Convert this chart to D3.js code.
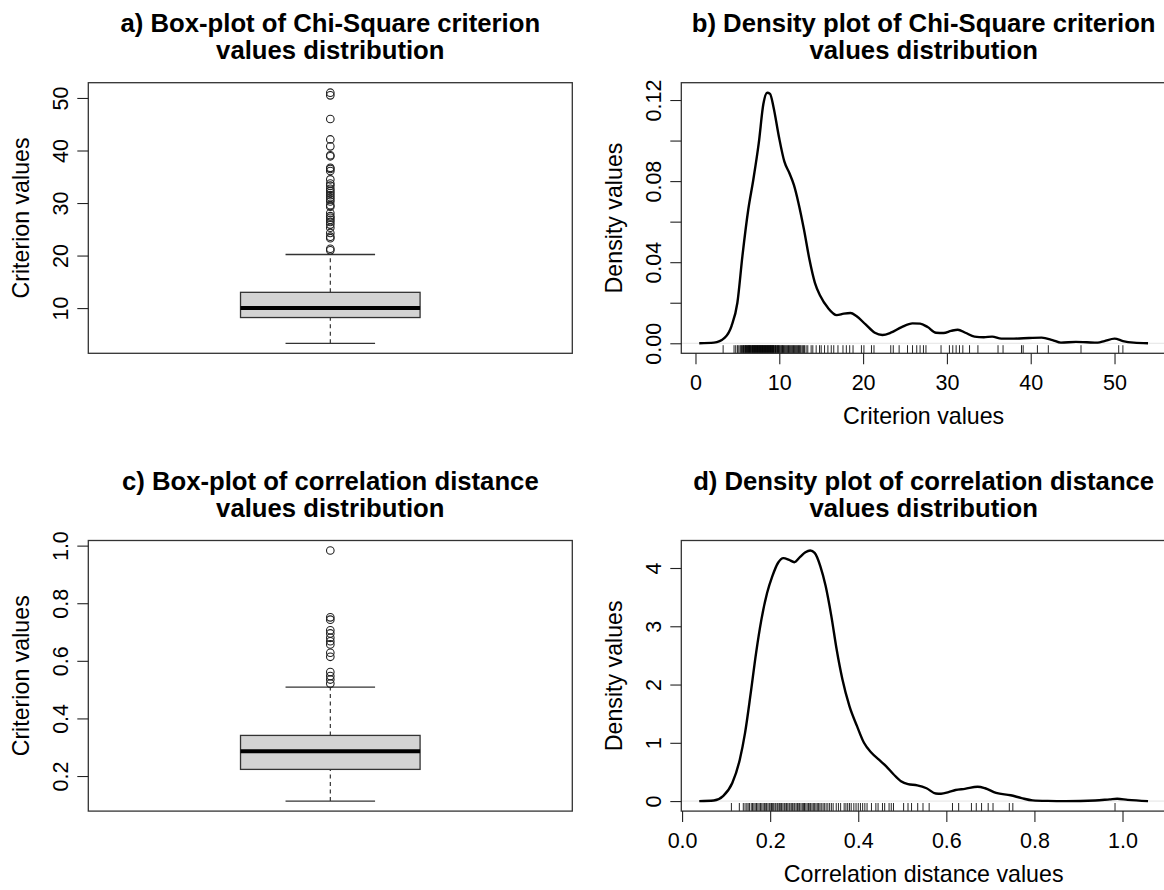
<!DOCTYPE html>
<html>
<head>
<meta charset="utf-8">
<script src="https://cdn.jsdelivr.net/npm/d3@7"></script>
<style>
  body { margin: 0; background: #fff; }
  text { font-family: "Liberation Sans", Arial, Helvetica, sans-serif; fill: #000; }
</style>
</head>
<body>
<div id="chart"></div>
<script>
// ---- Data ----

// a) Chi-Square criterion box-plot: [lower whisker, Q1, median, Q3, upper whisker]
var chiBox = [3.3, 8.2, 10.0, 13.0, 20.2];
var chiOutliers = [21.0, 21.3, 23.3, 23.6, 24.3, 25.3, 25.9, 26.4, 26.8, 27.2, 27.5, 28.1,
  29.3, 29.6, 30.3, 30.7, 31.1, 31.5, 31.9, 32.3, 32.7, 33.3, 33.7, 34.5, 36.1, 36.5,
  36.7, 38.9, 39.1, 40.8, 42.1, 46.0, 50.5, 51.0];

// b) Chi-Square density curve (x, density) and rug values
var chiDensX = [0.45, 2.2, 3.5, 4.3, 5.0, 5.6, 6.3, 6.9, 7.55, 8.1, 8.55, 8.9, 9.3, 9.95,
  10.6, 11.2, 11.75, 12.3, 12.95, 13.6, 14.25, 14.9, 15.8, 16.85, 17.7, 18.5, 19.2, 20.3,
  21.4, 22.3, 23.3, 24.6, 25.9, 26.8, 27.7, 28.7, 29.6, 30.5, 31.3, 32.2, 33.3, 34.4, 35.4,
  36.5, 38.0, 39.8, 41.3, 42.6, 43.6, 45.4, 46.7, 48.0, 48.8, 50.0, 51.0, 52.3, 54.0];
var chiDensY = [0, 0.0003, 0.0028, 0.0085, 0.020, 0.043, 0.066, 0.0807, 0.0987, 0.118,
  0.1236, 0.123, 0.1167, 0.102, 0.0897, 0.084, 0.078, 0.069, 0.056, 0.0413, 0.0298, 0.0233,
  0.0175, 0.0139, 0.0146, 0.0149, 0.0134, 0.0093, 0.0052, 0.0041, 0.0052, 0.0080, 0.0098,
  0.0097, 0.0080, 0.0052, 0.0051, 0.0061, 0.0067, 0.0052, 0.0033, 0.0030, 0.0033, 0.0023,
  0.0023, 0.0026, 0.0028, 0.0016, 0.0003, 0.0007, 0.0005, 0.0003, 0.0011, 0.0023, 0.0011,
  0.0003, 0];
var chiRug = [3.3, 4.6, 4.8, 5.0, 5.1, 5.3, 5.4, 5.5, 5.6, 5.7, 5.75, 5.8, 5.9, 5.95, 6.0,
  6.05, 6.1, 6.2, 6.25, 6.3, 6.35, 6.4, 6.45, 6.5, 6.55, 6.6, 6.7, 6.75, 6.8, 6.85, 6.9,
  6.95, 7.0, 7.05, 7.1, 7.15, 7.2, 7.25, 7.3, 7.35, 7.4, 7.45, 7.5, 7.55, 7.6, 7.65, 7.7,
  7.75, 7.8, 7.85, 7.9, 7.95, 8.0, 8.05, 8.1, 8.15, 8.2, 8.25, 8.3, 8.35, 8.4, 8.45, 8.5,
  8.55, 8.6, 8.65, 8.7, 8.75, 8.8, 8.85, 8.9, 8.95, 9.0, 9.05, 9.1, 9.15, 9.2, 9.25, 9.3,
  9.35, 9.4, 9.5, 9.55, 9.6, 9.7, 9.75, 9.8, 9.9, 9.95, 10.0, 10.1, 10.2, 10.3, 10.35,
  10.4, 10.5, 10.6, 10.7, 10.8, 10.9, 11.0, 11.1, 11.2, 11.3, 11.4, 11.5, 11.6, 11.7, 11.8,
  11.9, 12.0, 12.1, 12.2, 12.3, 12.4, 12.5, 12.6, 12.75, 12.9, 13.0, 13.2, 13.4, 13.8,
  14.0, 14.4, 14.8, 15.0, 15.4, 15.8, 16.2, 16.5, 17.0, 17.6, 18.0, 18.4, 18.8, 19.8, 20.1,
  21.0, 21.3, 23.3, 23.6, 24.3, 25.3, 25.9, 26.4, 26.8, 27.2, 27.5, 29.3, 30.3, 30.7, 31.1,
  31.5, 31.9, 32.7, 33.7, 36.1, 36.7, 38.9, 39.1, 40.8, 42.1, 46.0, 50.5, 51.0];

// c) correlation distance box-plot
var corrBox = [0.113, 0.223, 0.286, 0.341, 0.509];
var corrOutliers = [0.521, 0.535, 0.547, 0.561, 0.614, 0.628, 0.657, 0.668, 0.68, 0.695,
  0.706, 0.743, 0.751, 0.983];

// d) correlation distance density curve and rug values
var corrDensX = [0.039, 0.072, 0.093, 0.114, 0.131, 0.143, 0.156, 0.168, 0.18, 0.193, 0.205,
  0.218, 0.23, 0.243, 0.255, 0.268, 0.28, 0.291, 0.301, 0.314, 0.326, 0.339, 0.351, 0.364,
  0.38, 0.397, 0.413, 0.43, 0.447, 0.463, 0.48, 0.497, 0.513, 0.534, 0.555, 0.576, 0.588,
  0.605, 0.621, 0.642, 0.671, 0.688, 0.713, 0.746, 0.771, 0.796, 0.83, 0.871, 0.938,
  0.971, 0.988, 1.012, 1.058];
var corrDensY = [0, 0.01, 0.086, 0.31, 0.71, 1.17, 1.86, 2.54, 3.11, 3.57, 3.86, 4.09,
  4.17, 4.14, 4.10, 4.19, 4.27, 4.30, 4.26, 4.03, 3.69, 3.17, 2.6, 2.09, 1.63, 1.29, 1.0,
  0.83, 0.71, 0.6, 0.46, 0.34, 0.29, 0.27, 0.22, 0.13, 0.126, 0.154, 0.19, 0.21, 0.246,
  0.22, 0.14, 0.1, 0.05, 0.012, 0.003, 0, 0.01, 0.03, 0.04, 0.02, 0];
var corrRug = [0.112, 0.130, 0.139, 0.143, 0.147, 0.150, 0.153, 0.157, 0.160, 0.163, 0.166,
  0.169, 0.172, 0.175, 0.178, 0.181, 0.184, 0.187, 0.190, 0.192, 0.195, 0.198, 0.200,
  0.203, 0.205, 0.208, 0.211, 0.213, 0.216, 0.218, 0.221, 0.224, 0.226, 0.229, 0.232,
  0.234, 0.237, 0.240, 0.243, 0.245, 0.248, 0.251, 0.254, 0.256, 0.259, 0.262, 0.265,
  0.267, 0.270, 0.273, 0.276, 0.278, 0.281, 0.284, 0.287, 0.290, 0.292, 0.295, 0.298,
  0.301, 0.304, 0.307, 0.310, 0.313, 0.316, 0.320, 0.323, 0.327, 0.331, 0.335, 0.339,
  0.343, 0.350, 0.355, 0.360, 0.368, 0.372, 0.376, 0.380, 0.384, 0.390, 0.395, 0.400,
  0.405, 0.410, 0.415, 0.420, 0.430, 0.440, 0.445, 0.455, 0.460, 0.470, 0.475, 0.480,
  0.503, 0.513, 0.521, 0.535, 0.547, 0.561, 0.614, 0.628, 0.657, 0.668, 0.68, 0.695,
  0.706, 0.743, 0.751, 0.983];

// ticks
var chiYTicks = [10, 20, 30, 40, 50];
var chiDensYTicks = [0, 0.02, 0.04, 0.06, 0.08, 0.10, 0.12];
var chiDensYLabels = ["0.00", "", "0.04", "", "0.08", "", "0.12"];
var chiDensXTicks = [0, 10, 20, 30, 40, 50];
var corrYTicks = [0.2, 0.4, 0.6, 0.8, 1.0];
var corrYLabels = ["0.2", "0.4", "0.6", "0.8", "1.0"];
var corrDensYTicks = [0, 1, 2, 3, 4];
var corrDensXTicks = [0, 0.2, 0.4, 0.6, 0.8, 1.0];
var corrDensXLabels = ["0.0", "0.2", "0.4", "0.6", "0.8", "1.0"];

// ---- Layout ----
var svg = d3.select("#chart").append("svg")
  .attr("width", 1164)
  .attr("height", 890);

var colL = [88.3, 572.3];
var colR = [681.3, 1166];
var rowT = [82.7, 353.3];
var rowB = [540.5, 811.1];

var tickFont = 21.5;
var labFont = 23.2;
var titleFont = 25.7;
var lineCol = "#222";

// R-style 4% range expansion
function pad(ext) {
  var d = (ext[1] - ext[0]) * 0.04;
  return [ext[0] - d, ext[1] + d];
}

function drawTitle(xr, yr, lines) {
  var cx = (xr[0] + xr[1]) / 2;
  var t = svg.append("text")
    .attr("text-anchor", "middle")
    .attr("font-size", titleFont)
    .attr("font-weight", "bold");
  t.append("tspan").attr("x", cx).attr("y", yr[0] - 50.4).text(lines[0]);
  t.append("tspan").attr("x", cx).attr("y", yr[0] - 23.4).text(lines[1]);
}

function frame(xr, yr) {
  svg.append("rect")
    .attr("x", xr[0]).attr("y", yr[0])
    .attr("width", xr[1] - xr[0]).attr("height", yr[1] - yr[0])
    .attr("fill", "none")
    .attr("stroke", "#333")
    .attr("stroke-width", 1.3);
}

function yAxis(xr, y, ticks, labels) {
  var g = svg.append("g")
    .attr("transform", `translate(${xr[0]},0)`)
    .call(d3.axisLeft(y).tickValues(ticks).tickSize(11).tickSizeOuter(0)
      .tickFormat((d, i) => labels[i]));
  g.select(".domain").remove();
  g.selectAll("line").attr("stroke", lineCol).attr("stroke-width", 1.1);
  g.selectAll("text")
    .attr("x", null).attr("dy", null)
    .attr("transform", "translate(-20.5,0) rotate(-90)")
    .attr("text-anchor", "middle")
    .attr("font-size", tickFont)
    .attr("font-family", "Liberation Sans, Arial, sans-serif");
  return g;
}

function yTitle(xr, yr, label) {
  var cy = (yr[0] + yr[1]) / 2;
  svg.append("text")
    .attr("transform", `translate(${xr[0] - 59},${cy}) rotate(-90)`)
    .attr("text-anchor", "middle")
    .attr("font-size", labFont)
    .text(label);
}

function boxPanel(xr, yr, stats, outliers, ticks, labels, title) {
  var y = d3.scaleLinear()
    .domain(pad([stats[0], d3.max(outliers)]))
    .range([yr[1], yr[0]]);
  var x = d3.scaleLinear().domain([0.5, 1.5]).range(xr);
  var half = 0.1855, cap = 0.0925;

  var g = svg.append("g");
  // dashed whiskers
  g.append("line")
    .attr("x1", x(1)).attr("x2", x(1))
    .attr("y1", y(stats[3])).attr("y2", y(stats[4]))
    .attr("stroke", lineCol).attr("stroke-dasharray", "4,3.5").attr("stroke-width", 1.1);
  g.append("line")
    .attr("x1", x(1)).attr("x2", x(1))
    .attr("y1", y(stats[0])).attr("y2", y(stats[1]))
    .attr("stroke", lineCol).attr("stroke-dasharray", "4,3.5").attr("stroke-width", 1.1);
  // staples
  [stats[0], stats[4]].forEach(function(v) {
    g.append("line")
      .attr("x1", x(1 - cap)).attr("x2", x(1 + cap))
      .attr("y1", y(v)).attr("y2", y(v))
      .attr("stroke", "#333").attr("stroke-width", 1.3);
  });
  // box
  g.append("rect")
    .attr("x", x(1 - half)).attr("width", x(1 + half) - x(1 - half))
    .attr("y", y(stats[3])).attr("height", y(stats[1]) - y(stats[3]))
    .attr("fill", "#d3d3d3")
    .attr("stroke", "#333").attr("stroke-width", 1.3);
  // median
  g.append("line")
    .attr("x1", x(1 - half)).attr("x2", x(1 + half))
    .attr("y1", y(stats[2])).attr("y2", y(stats[2]))
    .attr("stroke", "#000").attr("stroke-width", 4);
  // outliers
  g.selectAll("circle.out")
    .data(outliers)
    .enter().append("circle")
    .attr("class", "out")
    .attr("cx", x(1))
    .attr("cy", d => y(d))
    .attr("r", 3.8)
    .attr("fill", "none")
    .attr("stroke", "#222")
    .attr("stroke-width", 1.1);

  frame(xr, yr);
  yAxis(xr, y, ticks, labels);
  yTitle(xr, yr, "Criterion values");
  drawTitle(xr, yr, title);
}

function densityPanel(xr, yr, xs, ys, rug, xTicks, xLabels, yTicks, yLabels, xlab, title) {
  var x = d3.scaleLinear().domain(pad(d3.extent(xs))).range(xr);
  var y = d3.scaleLinear().domain(pad([0, d3.max(ys)])).range([yr[1], yr[0]]);
  var pts = xs.map((v, i) => [v, ys[i]]);

  // zero line
  svg.append("line")
    .attr("x1", xr[0]).attr("x2", xr[1])
    .attr("y1", y(0)).attr("y2", y(0))
    .attr("stroke", "#d0d0d0").attr("stroke-width", 0.6);

  // rug
  svg.append("g").selectAll("line")
    .data(rug)
    .enter().append("line")
    .attr("x1", d => x(d)).attr("x2", d => x(d))
    .attr("y1", yr[1]).attr("y2", yr[1] - 8.1)
    .attr("stroke", "#000")
    .attr("stroke-opacity", 0.85)
    .attr("stroke-width", 1);

  // density curve
  svg.append("path")
    .datum(pts)
    .attr("fill", "none")
    .attr("stroke", "#000")
    .attr("stroke-width", 2.4)
    .attr("stroke-linejoin", "round")
    .attr("d", d3.line().x(d => x(d[0])).y(d => y(d[1])).curve(d3.curveMonotoneX));

  frame(xr, yr);

  var gx = svg.append("g")
    .attr("transform", `translate(0,${yr[1]})`)
    .call(d3.axisBottom(x).tickValues(xTicks).tickSize(11).tickSizeOuter(0)
      .tickFormat((d, i) => xLabels[i]));
  gx.select(".domain").remove();
  gx.selectAll("line").attr("stroke", lineCol).attr("stroke-width", 1.1);
  gx.selectAll("text")
    .attr("y", 36.7).attr("dy", null)
    .attr("font-size", tickFont)
    .attr("font-family", "Liberation Sans, Arial, sans-serif");

  svg.append("text")
    .attr("x", (xr[0] + xr[1]) / 2)
    .attr("y", yr[1] + 71)
    .attr("text-anchor", "middle")
    .attr("font-size", labFont)
    .text(xlab);

  yAxis(xr, y, yTicks, yLabels);
  yTitle(xr, yr, "Density values");
  drawTitle(xr, yr, title);
}

boxPanel(colL, rowT, chiBox, chiOutliers, chiYTicks, chiYTicks.map(String),
  ["a) Box-plot of Chi-Square criterion", "values distribution"]);

densityPanel(colR, rowT, chiDensX, chiDensY, chiRug,
  chiDensXTicks, chiDensXTicks.map(String), chiDensYTicks, chiDensYLabels,
  "Criterion values",
  ["b) Density plot of Chi-Square criterion", "values distribution"]);

boxPanel(colL, rowB, corrBox, corrOutliers, corrYTicks, corrYLabels,
  ["c) Box-plot of correlation distance", "values distribution"]);

densityPanel(colR, rowB, corrDensX, corrDensY, corrRug,
  corrDensXTicks, corrDensXLabels, corrDensYTicks, corrDensYTicks.map(String),
  "Correlation distance values",
  ["d) Density plot of correlation distance", "values distribution"]);
</script>
</body>
</html>
